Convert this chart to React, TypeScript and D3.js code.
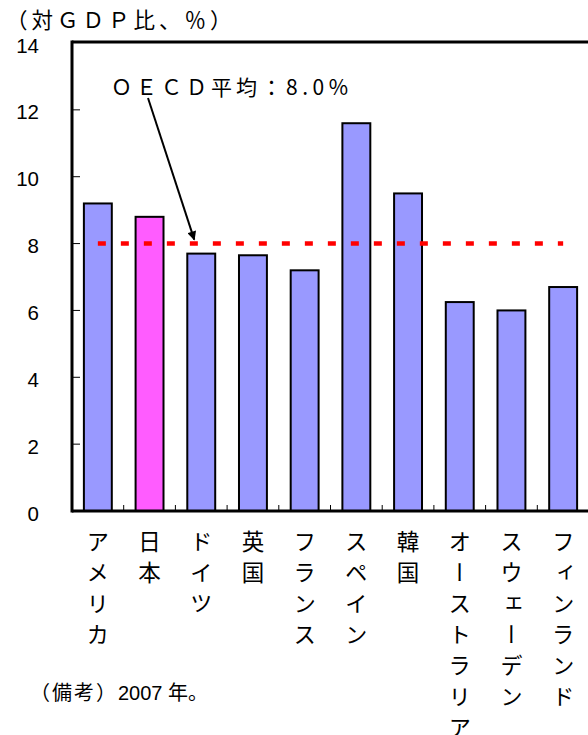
import React, { useRef, useEffect } from 'react';
import * as d3 from 'd3';

const countries = ['アメリカ', '日本', 'ドイツ', '英国', 'フランス', 'スペイン', '韓国', 'オーストラリア', 'スウェーデン', 'フィンランド'];
const values = [9.2, 8.8, 7.7, 7.65, 7.2, 11.6, 9.5, 6.25, 6.0, 6.7];
const yTicks = [0, 2, 4, 6, 8, 10, 12, 14];
const oecdAvg = 8.0;
const highlight = '日本';

const W = 588;
const H = 735;
const JP = '"Noto Sans CJK JP", "Noto Sans", sans-serif';
const LAT = '"Liberation Sans", Arial, sans-serif';

const App = () => {
  const ref = useRef<SVGSVGElement>(null);

  useEffect(() => {
    if (!ref.current) return;
    const svg = d3.select(ref.current);
    svg.selectAll('*').remove();

    const left = 72, top = 42, bottom = 511;
    const step = 51.7;
    const x = d3.scaleBand<string>()
      .domain(countries)
      .range([left, left + step * countries.length])
      .paddingInner(0.46)
      .paddingOuter(0.23);
    const y = d3.scaleLinear().domain([0, 14]).range([bottom, top + 1]);

    const defs = svg.append('defs');
    defs.append('marker')
      .attr('id', 'arr')
      .attr('viewBox', '0 0 10 10')
      .attr('refX', 9).attr('refY', 5)
      .attr('markerWidth', 5).attr('markerHeight', 4.5)
      .attr('markerUnits', 'strokeWidth')
      .attr('orient', 'auto')
      .append('path').attr('d', 'M0,0 L10,5 L0,10 Z').attr('fill', '#000');

    // bars (Japan highlighted in magenta)
    svg.append('g')
      .selectAll('rect')
      .data(values)
      .enter()
      .append('rect')
      .attr('x', (d, i) => x(countries[i])!)
      .attr('y', d => y(d))
      .attr('width', x.bandwidth())
      .attr('height', d => bottom - y(d))
      .attr('fill', (d, i) => countries[i] === highlight ? '#ff5cff' : '#9999ff')
      .attr('stroke', '#000')
      .attr('stroke-width', 2);

    // frame
    svg.append('line').attr('x1', left).attr('x2', W + 5).attr('y1', top).attr('y2', top)
      .attr('stroke', '#000').attr('stroke-width', 3);
    svg.append('line').attr('x1', left).attr('x2', left).attr('y1', top - 1.5).attr('y2', bottom + 1.5)
      .attr('stroke', '#000').attr('stroke-width', 3);
    svg.append('line').attr('x1', left).attr('x2', W + 5).attr('y1', bottom).attr('y2', bottom)
      .attr('stroke', '#000').attr('stroke-width', 3);

    // y ticks (inside) and labels
    svg.append('g').selectAll('line')
      .data(yTicks.filter(t => t > 0 && t < 14))
      .enter().append('line')
      .attr('x1', left).attr('x2', left + 8)
      .attr('y1', d => y(d)).attr('y2', d => y(d))
      .attr('stroke', '#000').attr('stroke-width', 1);
    svg.append('g').selectAll('text')
      .data(yTicks)
      .enter().append('text')
      .attr('x', 39)
      .attr('y', d => y(d) + 2)
      .attr('text-anchor', 'end')
      .attr('dominant-baseline', 'central')
      .attr('font-family', LAT)
      .attr('font-size', 20.5)
      .text(d => d);

    // category ticks between bars
    svg.append('g').selectAll('line')
      .data(countries.slice(1))
      .enter().append('line')
      .attr('x1', d => x(d)! - x.step() * x.paddingInner() / 2)
      .attr('x2', d => x(d)! - x.step() * x.paddingInner() / 2)
      .attr('y1', bottom).attr('y2', bottom - 6)
      .attr('stroke', '#000').attr('stroke-width', 1);

    // vertical category labels
    svg.append('g').selectAll('text')
      .data(countries)
      .enter().append('text')
      .attr('x', d => x(d)! + x.bandwidth() / 2)
      .attr('y', 530)
      .attr('writing-mode', 'vertical-rl')
      .style('text-orientation', 'upright')
      .attr('letter-spacing', 8.5)
      .attr('font-family', JP)
      .attr('font-size', 22.5)
      .text(d => d);

    // OECD average dashed line
    svg.append('line')
      .attr('x1', x(countries[0])! + x.bandwidth() / 2)
      .attr('x2', x(countries[countries.length - 1])! + x.bandwidth() / 2)
      .attr('y1', y(oecdAvg)).attr('y2', y(oecdAvg))
      .attr('stroke', '#ff0000').attr('stroke-width', 4.5)
      .attr('stroke-dasharray', '8 15');

    // annotation
    const tipX = x('ドイツ')! + x.bandwidth() / 2 - 7;
    svg.append('line')
      .attr('x1', 148).attr('y1', 98)
      .attr('x2', tipX).attr('y2', y(oecdAvg) - 4)
      .attr('stroke', '#000').attr('stroke-width', 2)
      .attr('marker-end', 'url(#arr)');
    const ann = svg.append('text')
      .attr('x', 111).attr('y', 95)
      .attr('font-family', JP)
      .attr('font-size', 21);
    ann.append('tspan').attr('letter-spacing', 4).text('ＯＥＣＤ平均：');
    ann.append('tspan').attr('letter-spacing', 4.5).text(`${oecdAvg.toFixed(1)}%`);

    // title
    svg.append('text')
      .attr('x', 6).attr('y', 28)
      .attr('font-family', JP)
      .attr('font-size', 21.5)
      .attr('letter-spacing', 4)
      .text('（対ＧＤＰ比、％）');

    // note
    const note = svg.append('text')
      .attr('x', 30).attr('y', 700)
      .attr('font-family', JP)
      .attr('font-size', 20);
    note.append('tspan').attr('letter-spacing', 2).text('（備考）');
    note.append('tspan').attr('font-family', LAT).text('2007 ');
    note.append('tspan').text('年。');
  }, []);

  return (
    <svg ref={ref} width={W} height={H}
      style={{ position: 'absolute', left: 0, top: 0, background: '#fff' }} />
  );
};

export default App;
